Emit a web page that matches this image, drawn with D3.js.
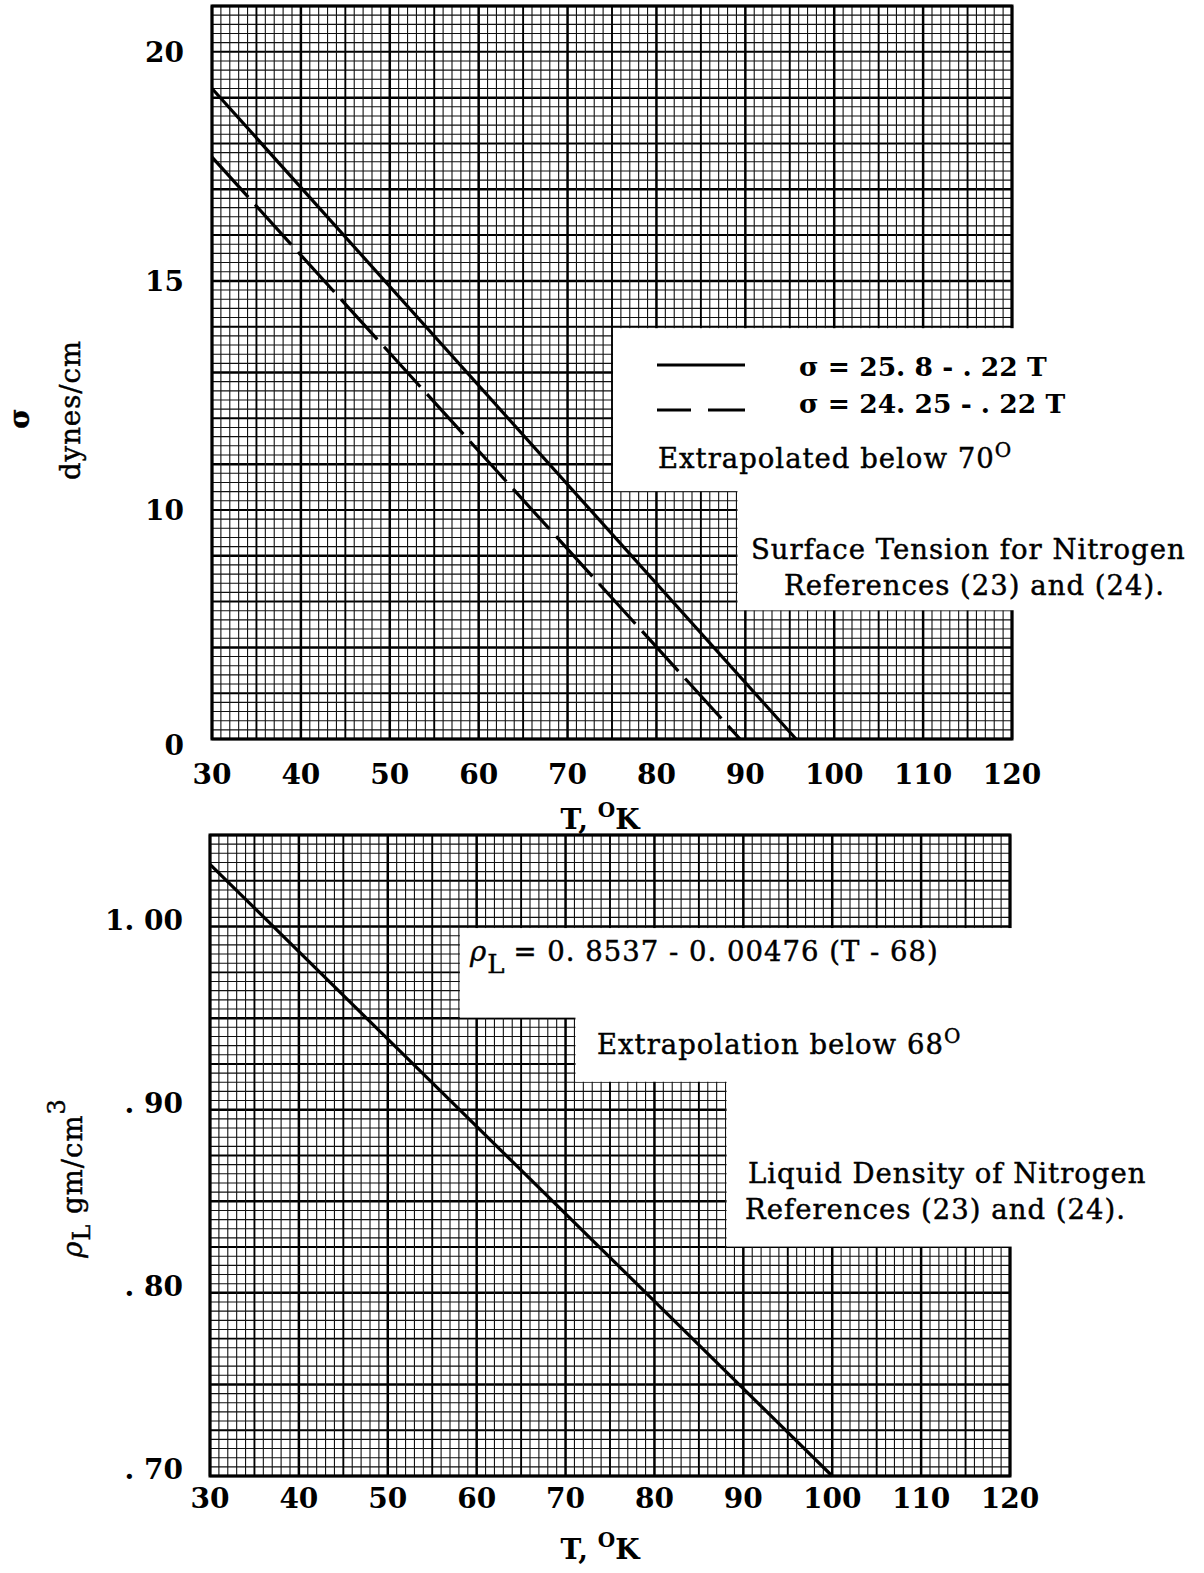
<!DOCTYPE html>
<html>
<head>
<meta charset="utf-8">
<title>Nitrogen surface tension and liquid density</title>
<style>
  body { margin: 0; background: #fff; }
  svg text { font-family: "DejaVu Serif", "Liberation Serif", serif; fill: #000; }
  .minor { stroke: #111; stroke-width: 1.1; }
  .medium { stroke: #000; stroke-width: 1.9; }
  .heavy { stroke: #000; stroke-width: 2.5; }
  .tick { font-size: 28px; font-weight: bold; }
  .note { font-size: 27.5px; letter-spacing: 1px; stroke: #000; stroke-width: 0.45; }
  .eq { font-size: 26.5px; font-weight: bold; }
</style>
</head>
<body>
<script src="https://cdn.jsdelivr.net/npm/d3@7"></script>
<script>
// values
var tTicks = [30, 40, 50, 60, 70, 80, 90, 100, 110, 120];

var sigmaTicks = [5, 10, 15, 20];
var sigmaTickLabels = ["0", "10", "15", "20"];   // bottom label printed as "0"

var solidT = [30, 95.7];
var solidSigma = [19.2, 5.0];
var dashedT = [30, 89.4];
var dashedSigma = [17.7, 5.0];

var rhoTicks = [0.70, 0.80, 0.90, 1.00];
var rhoTickLabels = [". 70", ". 80", ". 90", "1. 00"];

var rhoT = [30, 100];
var rhoValues = [1.034, 0.700];

var W = 1204, H = 1573;
var svg = d3.select("body").append("svg")
    .attr("width", W)
    .attr("height", H);

// graph paper: minor every cell, medium every 5, heavy every 10
function paper(g, x, y, t0, dt, nt, v0, dv, nv) {
    var cls = function(i) { return i % 10 == 0 ? "heavy" : (i % 5 == 0 ? "medium" : "minor"); };
    var vi = d3.range(0, nt + 1), hi = d3.range(0, nv + 1);
    var yr = y.range(), xr = x.range();
    // draw minor first so heavier ones sit on top
    vi.sort(function(a, b) { return (a % 5 == 0) - (b % 5 == 0); });
    hi.sort(function(a, b) { return (a % 5 == 0) - (b % 5 == 0); });
    g.selectAll(".h").data(hi).enter().append("line")
        .attr("class", function(i) { return cls(i); })
        .attr("x1", xr[0]).attr("x2", xr[1])
        .attr("y1", function(i) { return y(v0 + i * dv); })
        .attr("y2", function(i) { return y(v0 + i * dv); });
    g.selectAll(".v").data(vi).enter().append("line")
        .attr("class", function(i) { return cls(i); })
        .attr("y1", yr[0]).attr("y2", yr[1])
        .attr("x1", function(i) { return x(t0 + i * dt); })
        .attr("x2", function(i) { return x(t0 + i * dt); });
    g.append("rect")
        .attr("x", xr[0]).attr("y", yr[1])
        .attr("width", xr[1] - xr[0]).attr("height", yr[0] - yr[1])
        .attr("fill", "none").attr("stroke", "#000").attr("stroke-width", 3);
}

// white areas cut out of the paper, in data units [tFrom, vLow, vHigh]
// listed top to bottom; a shared edge between two boxes is fully covered
function cutouts(g, x, y, list) {
    var prevLow = null;
    list.forEach(function(c) {
        var top = (prevLow !== null && Math.abs(prevLow - c[2]) < 1e-9) ? y(c[2]) - 2 : y(c[2]) + 1.5;
        g.append("rect")
            .attr("x", x(c[0]) + 1)
            .attr("y", top)
            .attr("width", x.range()[1] - x(c[0]) + 12)
            .attr("height", y(c[1]) - 0.5 - top)
            .attr("fill", "#fff");
        prevLow = c[1];
    });
}

function xLabels(g, x, yPos) {
    g.selectAll(".xt").data(tTicks).enter().append("text")
        .attr("class", "tick")
        .attr("x", function(d) { return x(d); })
        .attr("y", yPos)
        .attr("text-anchor", "middle")
        .text(function(d) { return d; });
}

function axisTitle(g, cx, yPos) {
    var t = g.append("text").attr("class", "tick").attr("x", cx).attr("y", yPos)
        .attr("text-anchor", "middle");
    t.append("tspan").text("T,  ");
    t.append("tspan").attr("baseline-shift", "60%").attr("font-size", "20px").text("O");
    t.append("tspan").text("K");
}

// ---------------- top panel: surface tension ----------------
var x1 = d3.scaleLinear().domain([30, 120]).range([212, 1012]);
var y1 = d3.scaleLinear().domain([5, 21]).range([739, 6]);
var gTop = svg.append("g");

paper(gTop, x1, y1, 30, 1, 90, 5, 0.2, 80);
cutouts(gTop, x1, y1, [[75, 10.4, 14], [89, 7.8, 10.4]]);

var line1 = d3.line().x(function(d) { return x1(d[0]); }).y(function(d) { return y1(d[1]); });
gTop.append("path").datum(d3.zip(solidT, solidSigma))
    .attr("d", line1).attr("fill", "none").attr("stroke", "#000").attr("stroke-width", 3.2);
gTop.append("path").datum(d3.zip(dashedT, dashedSigma))
    .attr("d", line1).attr("fill", "none").attr("stroke", "#000").attr("stroke-width", 3.2)
    .attr("stroke-dasharray", "54,10");

gTop.selectAll(".yt").data(sigmaTicks).enter().append("text")
    .attr("class", "tick")
    .attr("x", 184)
    .attr("y", function(d, i) { return y1(d) + (i == 0 ? 16 : 10); })
    .attr("text-anchor", "end")
    .text(function(d, i) { return sigmaTickLabels[i]; });

xLabels(gTop, x1, 784);
axisTitle(gTop, 600, 829);

gTop.append("text").attr("class", "note").attr("transform", "translate(29,418) rotate(-90)")
    .attr("text-anchor", "middle").attr("font-weight", "bold").text("σ");
gTop.append("text").attr("class", "note").attr("transform", "translate(80,410) rotate(-90)")
    .attr("text-anchor", "middle").text("dynes/cm");

// legend
gTop.append("line").attr("x1", 657).attr("x2", 745).attr("y1", 365).attr("y2", 365)
    .attr("stroke", "#000").attr("stroke-width", 3);
gTop.append("line").attr("x1", 657).attr("x2", 745).attr("y1", 410).attr("y2", 410)
    .attr("stroke", "#000").attr("stroke-width", 3).attr("stroke-dasharray", "34,17,40");
gTop.append("text").attr("class", "eq").attr("x", 799).attr("y", 376).text("σ = 25. 8 - . 22 T");
gTop.append("text").attr("class", "eq").attr("x", 799).attr("y", 413).text("σ = 24. 25 - . 22 T");
var ex1 = gTop.append("text").attr("class", "note").attr("x", 658).attr("y", 468);
ex1.append("tspan").text("Extrapolated below 70");
ex1.append("tspan").attr("baseline-shift", "55%").attr("font-size", "20px").text("O");
gTop.append("text").attr("class", "note").attr("x", 751).attr("y", 559).text("Surface Tension for Nitrogen");
gTop.append("text").attr("class", "note").attr("x", 784).attr("y", 595).text("References (23) and (24).");

// ---------------- bottom panel: liquid density ----------------
var x2 = d3.scaleLinear().domain([30, 120]).range([210, 1010]);
var y2 = d3.scaleLinear().domain([0.70, 1.05]).range([1476, 835]);
var gBot = svg.append("g");

paper(gBot, x2, y2, 30, 1, 90, 0.70, 0.005, 70);
cutouts(gBot, x2, y2, [[58, 0.95, 1.00], [71, 0.915, 0.95], [88, 0.825, 0.915]]);

var line2 = d3.line().x(function(d) { return x2(d[0]); }).y(function(d) { return y2(d[1]); });
gBot.append("path").datum(d3.zip(rhoT, rhoValues))
    .attr("d", line2).attr("fill", "none").attr("stroke", "#000").attr("stroke-width", 3.2);

gBot.selectAll(".yt").data(rhoTicks).enter().append("text")
    .attr("class", "tick")
    .attr("x", 183)
    .attr("y", function(d) { return y2(d) + 3; })
    .attr("text-anchor", "end")
    .text(function(d, i) { return rhoTickLabels[i]; });

xLabels(gBot, x2, 1508);
axisTitle(gBot, 600, 1559);

var yl = gBot.append("text").attr("class", "note").attr("transform", "translate(82,1178) rotate(-90)")
    .attr("text-anchor", "middle");
yl.append("tspan").attr("font-style", "italic").text("ρ");
yl.append("tspan").attr("baseline-shift", "-35%").attr("font-size", "24px").text("L");
yl.append("tspan").text(" gm/cm");
yl.append("tspan").attr("baseline-shift", "70%").attr("font-size", "24px").text("3");

var eq2 = gBot.append("text").attr("class", "note").attr("x", 470).attr("y", 961);
eq2.append("tspan").attr("font-style", "italic").text("ρ");
eq2.append("tspan").attr("baseline-shift", "-45%").attr("font-size", "26px").text("L");
eq2.append("tspan").attr("dx", 8).text("= 0. 8537 - 0. 00476 (T - 68)");
var ex2 = gBot.append("text").attr("class", "note").attr("x", 597).attr("y", 1054);
ex2.append("tspan").text("Extrapolation  below 68");
ex2.append("tspan").attr("baseline-shift", "55%").attr("font-size", "20px").text("O");
gBot.append("text").attr("class", "note").attr("x", 748).attr("y", 1183).text("Liquid Density of Nitrogen");
gBot.append("text").attr("class", "note").attr("x", 745).attr("y", 1219).text("References (23) and (24).");
</script>
</body>
</html>
